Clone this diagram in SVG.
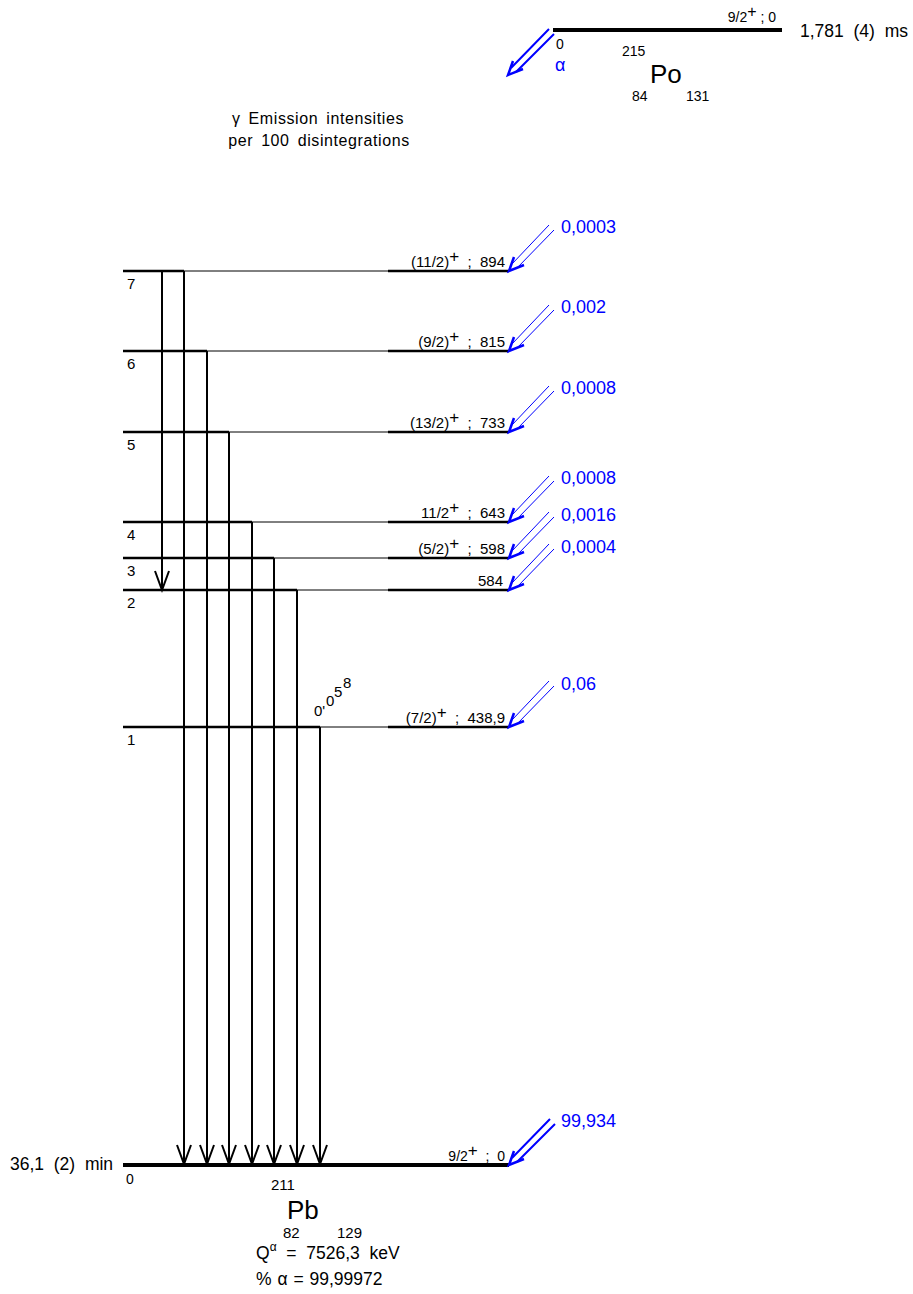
<svg xmlns="http://www.w3.org/2000/svg" xmlns:xlink="http://www.w3.org/1999/xlink" width="913" height="1294" viewBox="0 0 913 1294">
<style>
text{font-family:"Liberation Sans",Arial,sans-serif;fill:#000}
.lb{font-size:15px}
.sm{font-size:14px}
.bl{font-size:18px;fill:#0000ff}
.big{font-size:17.5px}
.el{font-size:26px}
.ttl{font-size:16px;letter-spacing:0.6px;word-spacing:3px}
.thin{stroke:#000;stroke-width:1;fill:none}
.thk{stroke:#000;stroke-width:2.5;fill:none}
.gs{stroke:#000;stroke-width:4;fill:none}
.tr{stroke:#000;stroke-width:2;fill:none}
</style>
<defs>
<g id="ba" fill="none" stroke="#0000ff">
<path d="M40,-46 L3,-7 M45,-41 L8,-3" stroke-width="1"/>
<path d="M5,-14 L0,0 L15,-6" stroke-width="2.5"/>
</g>
<g id="bat" fill="none" stroke="#0000ff">
<path d="M41,-46 L3,-7 M46,-41 L8,-3" stroke-width="2"/>
<path d="M5,-14 L0,0 L15,-6" stroke-width="2.5"/>
</g>
<path id="ah" d="M-7,-19 L0,0 L7,-19" fill="none" stroke="#000" stroke-width="2"/>
</defs>
<rect width="913" height="1294" fill="#fff"/>

<g id="parent">
<line class="gs" x1="553" y1="30" x2="782" y2="30"/>
<text class="sm" x="776" y="22" text-anchor="end" xml:space="preserve">9/2<tspan font-size="16" dy="-5">+</tspan><tspan dy="5"> ; 0</tspan></text>
<text class="big" x="800" y="37" xml:space="preserve">1,781  (4)  ms</text>
<text class="sm" x="556" y="49">0</text>
<text class="bl" x="555" y="71" font-size="16">α</text>
<text class="sm" x="622" y="56">215</text>
<text class="el" x="650" y="83">Po</text>
<text class="sm" x="632" y="101">84</text>
<text class="sm" x="686" y="101">131</text>
<use xlink:href="#bat" href="#bat" x="508" y="75"/>
</g>

<g id="title">
<text class="ttl" x="318" y="124" text-anchor="middle">γ Emission intensities</text>
<text class="ttl" x="319" y="146" text-anchor="middle">per 100 disintegrations</text>
</g>

<g id="level7">
<line class="thin" x1="123" y1="271" x2="509" y2="271"/>
<line class="thk" x1="123" y1="271" x2="184" y2="271"/>
<line class="thk" x1="388" y1="271" x2="509" y2="271"/>
<text class="lb" x="127" y="289">7</text>
<text class="lb" x="505" y="267" text-anchor="end" xml:space="preserve">(11/2)<tspan font-size="17" dy="-5">+</tspan><tspan dy="5">  ;  894</tspan></text>
<use xlink:href="#ba" href="#ba" x="509" y="271"/>
<text class="bl" x="561" y="233">0,0003</text>
</g>

<g id="level6">
<line class="thin" x1="123" y1="351" x2="509" y2="351"/>
<line class="thk" x1="123" y1="351" x2="207" y2="351"/>
<line class="thk" x1="388" y1="351" x2="509" y2="351"/>
<text class="lb" x="127" y="369">6</text>
<text class="lb" x="505" y="347" text-anchor="end" xml:space="preserve">(9/2)<tspan font-size="17" dy="-5">+</tspan><tspan dy="5">  ;  815</tspan></text>
<use xlink:href="#ba" href="#ba" x="509" y="351"/>
<text class="bl" x="561" y="313">0,002</text>
</g>

<g id="level5">
<line class="thin" x1="123" y1="432" x2="509" y2="432"/>
<line class="thk" x1="123" y1="432" x2="229" y2="432"/>
<line class="thk" x1="388" y1="432" x2="509" y2="432"/>
<text class="lb" x="127" y="450">5</text>
<text class="lb" x="505" y="428" text-anchor="end" xml:space="preserve">(13/2)<tspan font-size="17" dy="-5">+</tspan><tspan dy="5">  ;  733</tspan></text>
<use xlink:href="#ba" href="#ba" x="509" y="432"/>
<text class="bl" x="561" y="394">0,0008</text>
</g>

<g id="level4">
<line class="thin" x1="123" y1="522" x2="509" y2="522"/>
<line class="thk" x1="123" y1="522" x2="252" y2="522"/>
<line class="thk" x1="388" y1="522" x2="509" y2="522"/>
<text class="lb" x="127" y="540">4</text>
<text class="lb" x="505" y="518" text-anchor="end" xml:space="preserve">11/2<tspan font-size="17" dy="-5">+</tspan><tspan dy="5">  ;  643</tspan></text>
<use xlink:href="#ba" href="#ba" x="509" y="522"/>
<text class="bl" x="561" y="484">0,0008</text>
</g>

<g id="level3">
<line class="thin" x1="123" y1="558" x2="509" y2="558"/>
<line class="thk" x1="123" y1="558" x2="274" y2="558"/>
<line class="thk" x1="388" y1="558" x2="509" y2="558"/>
<text class="lb" x="127" y="576">3</text>
<text class="lb" x="505" y="554" text-anchor="end" xml:space="preserve">(5/2)<tspan font-size="17" dy="-5">+</tspan><tspan dy="5">  ;  598</tspan></text>
<use xlink:href="#ba" href="#ba" x="509" y="558"/>
<text class="bl" x="561" y="521">0,0016</text>
</g>

<g id="level2">
<line class="thin" x1="123" y1="590" x2="509" y2="590"/>
<line class="thk" x1="123" y1="590" x2="297" y2="590"/>
<line class="thk" x1="388" y1="590" x2="509" y2="590"/>
<text class="lb" x="127" y="608">2</text>
<text class="lb" x="503" y="586" text-anchor="end">584</text>
<use xlink:href="#ba" href="#ba" x="509" y="590"/>
<text class="bl" x="561" y="553">0,0004</text>
</g>

<g id="level1">
<line class="thin" x1="123" y1="727" x2="509" y2="727"/>
<line class="thk" x1="123" y1="727" x2="320" y2="727"/>
<line class="thk" x1="388" y1="727" x2="509" y2="727"/>
<text class="lb" x="127" y="745">1</text>
<text class="lb" x="505" y="723" text-anchor="end" xml:space="preserve">(7/2)<tspan font-size="17" dy="-5">+</tspan><tspan dy="5">  ;  438,9</tspan></text>
<use xlink:href="#ba" href="#ba" x="509" y="727"/>
<text class="bl" x="561" y="690">0,06</text>
<text class="lb" x="314" y="716">0'</text>
<text class="lb" x="326" y="706">0</text>
<text class="lb" x="334" y="697">5</text>
<text class="lb" x="343" y="688">8</text>
</g>

<g id="level0">
<line class="gs" x1="123" y1="1165" x2="509" y2="1165"/>
<text class="big" x="10" y="1170" xml:space="preserve">36,1  (2)  min</text>
<text class="sm" x="126" y="1184">0</text>
<text class="sm" x="505" y="1161" text-anchor="end" xml:space="preserve">9/2<tspan font-size="17" dy="-5">+</tspan><tspan dy="5">  ;  0</tspan></text>
<use xlink:href="#bat" href="#bat" x="509" y="1165"/>
<text class="bl" x="561" y="1127">99,934</text>
<text class="lb" x="271" y="1190">211</text>
<text class="el" x="287" y="1219">Pb</text>
<text class="lb" x="283" y="1238">82</text>
<text class="lb" x="337" y="1238">129</text>
<text class="big" x="256" y="1259" xml:space="preserve">Q<tspan font-size="12" dy="-8">α</tspan><tspan dy="8">  =  7526,3  keV</tspan></text>
<text class="big" x="256" y="1285" font-size="16" word-spacing="1">% α = 99,99972</text>
</g>

<g id="transitions">
<line class="tr" x1="162" y1="271" x2="162" y2="589"/>
<use xlink:href="#ah" href="#ah" x="162" y="590"/>
<line class="tr" x1="184" y1="271" x2="184" y2="1164"/>
<use xlink:href="#ah" href="#ah" x="184" y="1164"/>
<line class="tr" x1="207" y1="351" x2="207" y2="1164"/>
<use xlink:href="#ah" href="#ah" x="207" y="1164"/>
<line class="tr" x1="229" y1="432" x2="229" y2="1164"/>
<use xlink:href="#ah" href="#ah" x="229" y="1164"/>
<line class="tr" x1="252" y1="522" x2="252" y2="1164"/>
<use xlink:href="#ah" href="#ah" x="252" y="1164"/>
<line class="tr" x1="274" y1="558" x2="274" y2="1164"/>
<use xlink:href="#ah" href="#ah" x="274" y="1164"/>
<line class="tr" x1="297" y1="590" x2="297" y2="1164"/>
<use xlink:href="#ah" href="#ah" x="297" y="1164"/>
<line class="tr" x1="320" y1="727" x2="320" y2="1164"/>
<use xlink:href="#ah" href="#ah" x="320" y="1164"/>
</g>
</svg>
